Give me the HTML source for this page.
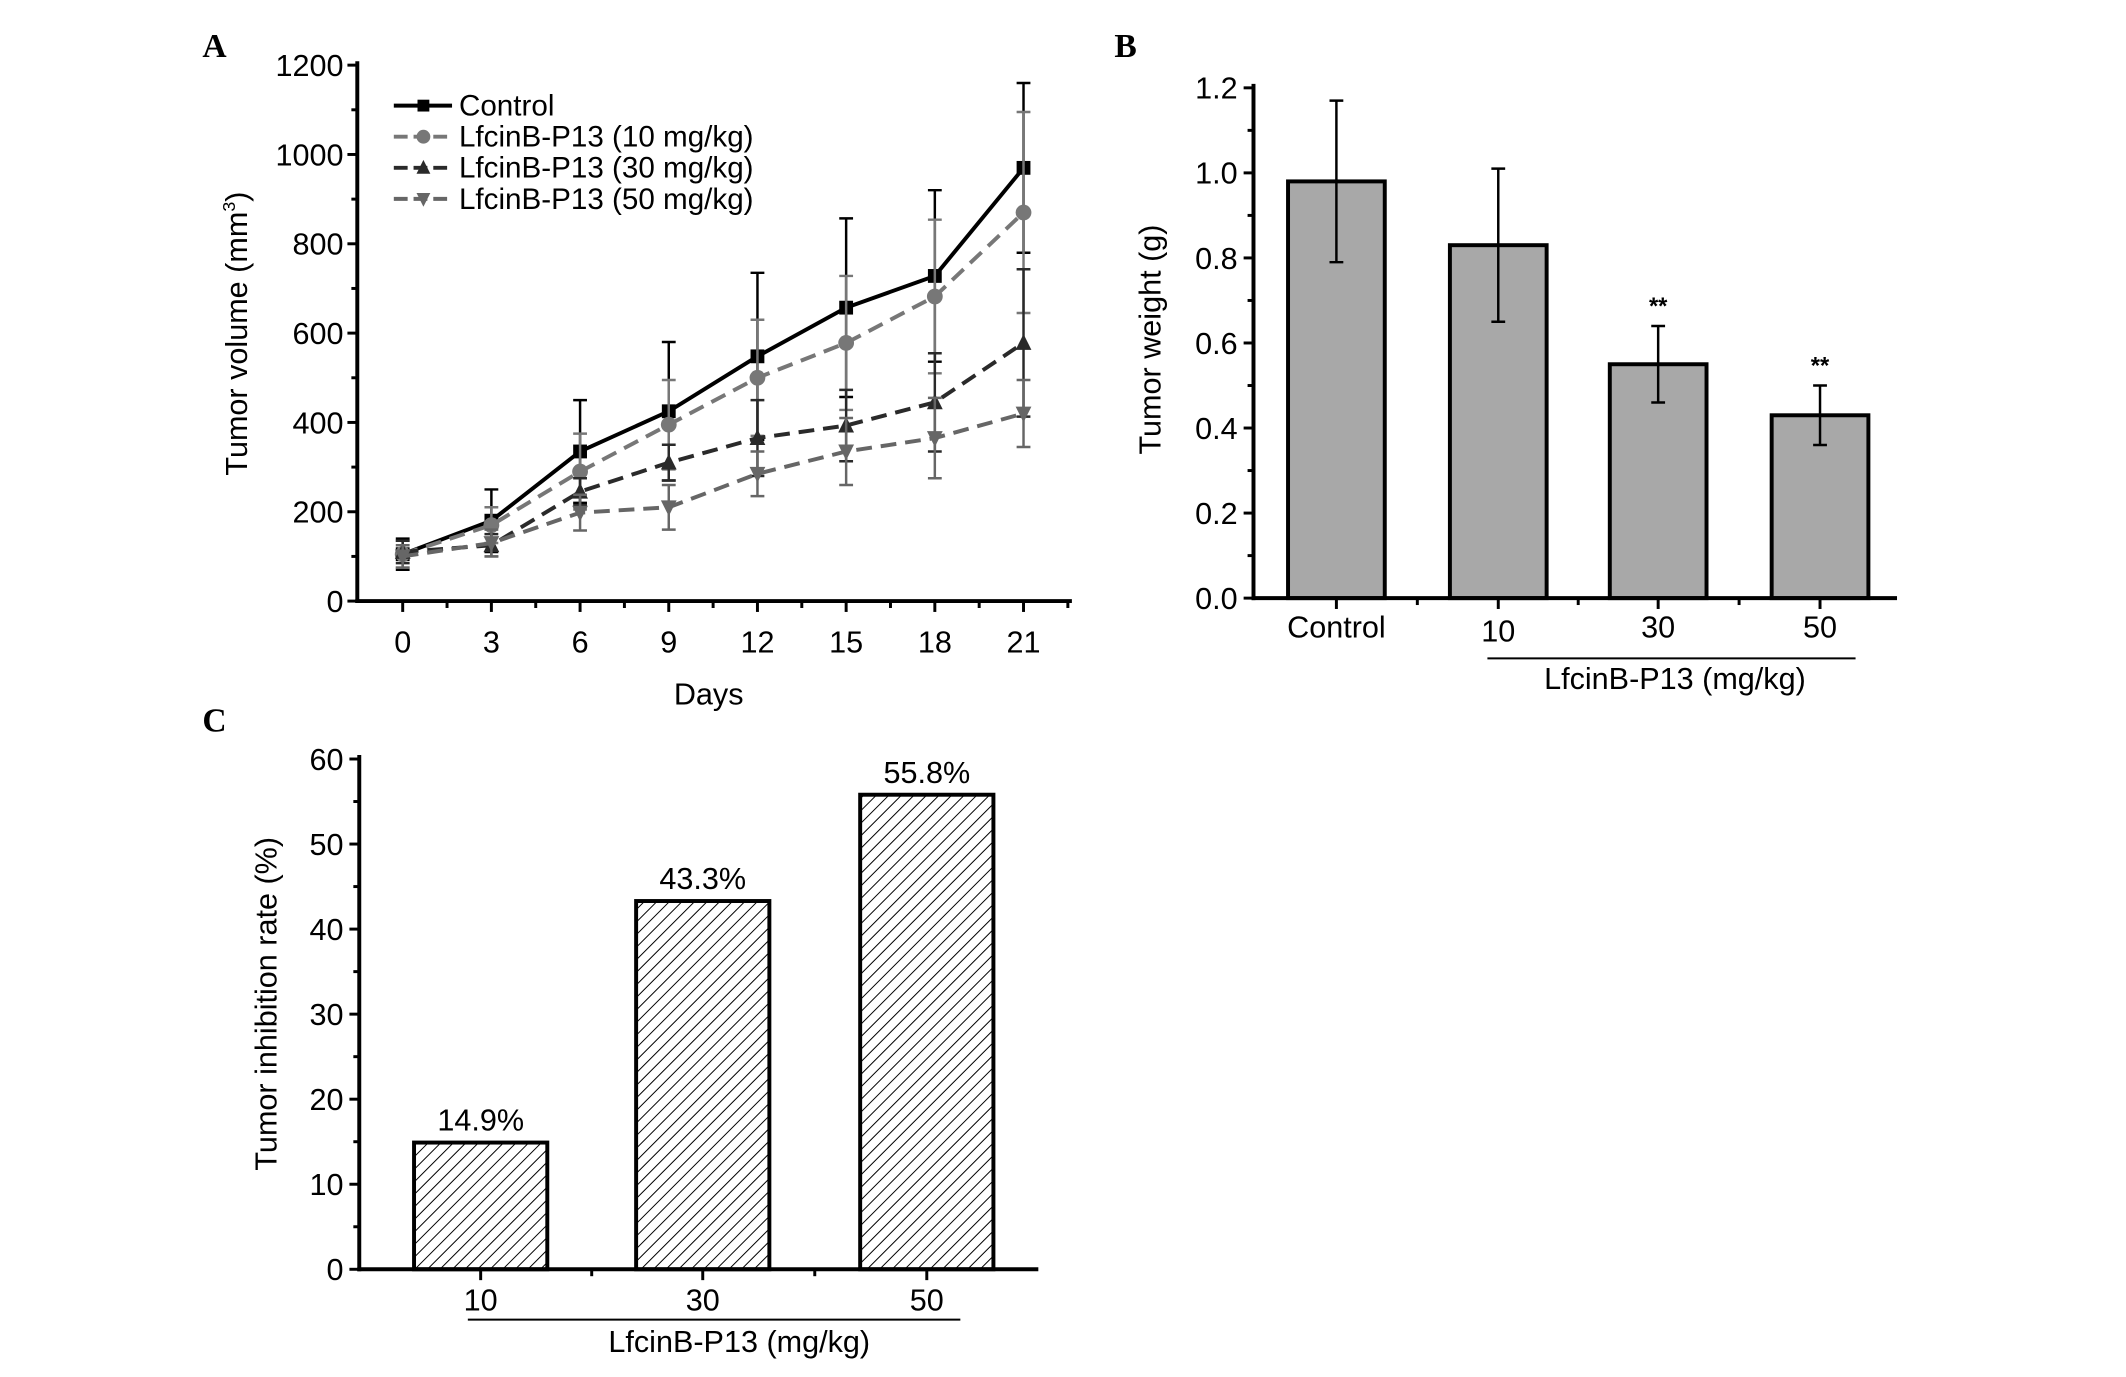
<!DOCTYPE html>
<html><head><meta charset="utf-8">
<style>
html,body{margin:0;padding:0;background:#fff;}
svg{display:block;font-family:"Liberation Sans",Arial,sans-serif;}
</style></head>
<body>
<svg id="fig" width="2126" height="1377" viewBox="0 0 2154 1395" preserveAspectRatio="xMinYMin meet" xmlns="http://www.w3.org/2000/svg">
<defs>
<pattern id="hatch" patternUnits="userSpaceOnUse" width="9" height="9" patternTransform="rotate(45)">
<rect width="9" height="9" fill="#fff"/>
<line x1="0" y1="0" x2="0" y2="9" stroke="#000" stroke-width="2"/>
</pattern>
</defs>
<g id="pa"></g>
<g id="pb"></g>
<g id="pc"></g>
</svg>
<script>
// Panel A data
const daysA = [0,3,6,9,12,15,18,21];
const controlVals = [105,180,335,425,548,657,728,970];
const controlErr = [35,70,115,155,187,200,192,190];
const p10Vals = [105,170,290,395,500,578,682,870];
const p10Err = [30,40,85,100,130,150,172,225];
const p30Vals = [110,125,245,310,365,393,445,578];
const p30Err = [25,25,30,40,85,80,110,165];
const p50Vals = [100,130,198,210,285,335,365,420];
const p50Err = [25,30,40,50,50,75,90,75];
const yTicksA = [0,200,400,600,800,1000,1200];
const seriesNamesA = ["Control","LfcinB-P13 (10 mg/kg)","LfcinB-P13 (30 mg/kg)","LfcinB-P13 (50 mg/kg)"];
// Panel B data
const catsB = ["Control","10","30","50"];
const weightVals = [0.98,0.83,0.55,0.43];
const weightErr = [0.19,0.18,0.09,0.07];
const sigB = ["","","**","**"];
const yTicksB = [0.0,0.2,0.4,0.6,0.8,1.0,1.2];
// Panel C data
const catsC = ["10","30","50"];
const inhibVals = [14.9,43.3,55.8];
const inhibLabels = ["14.9%","43.3%","55.8%"];
const yTicksC = [0,10,20,30,40,50,60];

const NS="http://www.w3.org/2000/svg";
function mk(parent,tag,attrs,text){
  const e=document.createElementNS(NS,tag);
  for(const k in attrs) e.setAttribute(k,attrs[k]);
  if(text!==undefined) e.textContent=text;
  parent.appendChild(e); return e;
}
const FS=31;

// ---------- Panel A ----------
(function(){
  const g=document.getElementById('pa');
  const x0=362,xEnd=1086,yTop=66,yBot=609;
  const xs=d=>408+(d/21)*(1037-408);
  const ys=v=>yBot-(v/1200)*(yBot-yTop);
  let t=mk(g,'text',{x:205,y:58,'font-family':'Liberation Serif,serif','font-weight':'bold','font-size':34},'A');
  
  
  let ax=mk(g,'line',{x1:x0,y1:yTop-4,x2:x0,y2:yBot+2,stroke:'#000','stroke-width':4});
  
  
  ax=mk(g,'line',{x1:x0-2,y1:yBot,x2:xEnd,y2:yBot,stroke:'#000','stroke-width':4});
  
  
  for(let v=0;v<=1200;v+=100){
    const major=yTicksA.includes(v);
    mk(g,'line',{x1:x0-(major?10:6),y1:ys(v),x2:x0,y2:ys(v),stroke:'#000','stroke-width':3});
  }
  yTicksA.forEach(v=>{
    const e=mk(g,'text',{x:x0-14,y:ys(v)+11,'text-anchor':'end','font-size':FS},String(v));
    
    
  });
  for(let d=0;d<=22.5;d+=1.5){
    const major=daysA.includes(d);
    mk(g,'line',{x1:xs(d),y1:yBot,x2:xs(d),y2:yBot+(major?11:7),stroke:'#000','stroke-width':3});
  }
  daysA.forEach(d=>{
    const e=mk(g,'text',{x:xs(d),y:661,'text-anchor':'middle','font-size':FS},String(d));
    
    
  });
  t=mk(g,'text',{x:718,y:714,'text-anchor':'middle','font-size':FS},'Days');
  
  
  t=mk(g,'text',{x:0,y:0,'text-anchor':'middle','font-size':FS,transform:'translate(250,338) rotate(-90)'});
  
  
  t.appendChild(document.createTextNode('Tumor volume (mm'));
  mk(t,'tspan',{'font-size':18,dy:-12},'3');
  mk(t,'tspan',{dy:12},')');

  const series=[
    {v:controlVals,e:controlErr,c:'#000',dash:'',m:'sq'},
    {v:p10Vals,e:p10Err,c:'#777',dash:'16 9',m:'ci'},
    {v:p30Vals,e:p30Err,c:'#2a2a2a',dash:'16 9',m:'tu'},
    {v:p50Vals,e:p50Err,c:'#666',dash:'16 9',m:'td'}
  ];
  function marker(par,m,x,y,c,s){
    if(m==='sq') return mk(par,'rect',{x:x-s,y:y-s,width:2*s,height:2*s,fill:c});
    if(m==='ci') return mk(par,'circle',{cx:x,cy:y,r:s+1,fill:c});
    if(m==='tu') return mk(par,'polygon',{points:`${x},${y-s-2} ${x-s-1},${y+s} ${x+s+1},${y+s}`,fill:c});
    return mk(par,'polygon',{points:`${x},${y+s+2} ${x-s-1},${y-s} ${x+s+1},${y-s}`,fill:c});
  }
  series.forEach((s,si)=>{
    const sg=mk(g,'g',{});
    
    
    s.v.forEach((v,i)=>{
      const x=xs(daysA[i]);
      const e=mk(sg,'path',{d:`M${x},${ys(v-s.e[i])}V${ys(v+s.e[i])}M${x-7},${ys(v-s.e[i])}h14M${x-7},${ys(v+s.e[i])}h14`,stroke:s.c,'stroke-width':2.5,fill:'none'});
      
      
    });
    const pts=s.v.map((v,i)=>xs(daysA[i])+','+ys(v)).join(' ');
    const pl=mk(sg,'polyline',{points:pts,fill:'none',stroke:s.c,'stroke-width':4,'stroke-dasharray':s.dash});
    
    
    s.v.forEach((v,i)=>{
      const m=marker(sg,s.m,xs(daysA[i]),ys(v),s.c,7);
      
      
    });
    const ly=107+si*31.5;
    const lg=mk(g,'g',{});
    
    
    mk(lg,'line',{x1:399,y1:ly,x2:458,y2:ly,stroke:s.c,'stroke-width':4,'stroke-dasharray':s.dash?'14 6':''});
    marker(lg,s.m,429,ly,s.c,6);
    mk(lg,'text',{x:465,y:ly+10,'font-size':30},seriesNamesA[si]);
  });
})();

// ---------- Panel B ----------
(function(){
  const g=document.getElementById('pb');
  const x0=1270,xEnd=1922,yTop=89,yBot=606;
  const ys=v=>yBot-(v/1.2)*(yBot-yTop);
  const centers=[1354,1518,1680,1844];
  const bw=98;
  let t=mk(g,'text',{x:1129,y:58,'font-family':'Liberation Serif,serif','font-weight':'bold','font-size':34},'B');
  
  
  catsB.forEach((c,i)=>{
    const b=mk(g,'rect',{x:centers[i]-bw/2,y:ys(weightVals[i]),width:bw,height:yBot-ys(weightVals[i]),fill:'#a8a8a8',stroke:'#000','stroke-width':4});
    
    
    const x=centers[i],lo=ys(weightVals[i]-weightErr[i]),hi=ys(weightVals[i]+weightErr[i]);
    const e=mk(g,'path',{d:`M${x},${lo}V${hi}M${x-7},${lo}h14M${x-7},${hi}h14`,stroke:'#000','stroke-width':2.5,fill:'none'});
    
    
    if(sigB[i]){
      const s=mk(g,'text',{x:x,y:hi-12,'text-anchor':'middle','font-size':24,'font-weight':'bold'},sigB[i]);
      
      
    }
    const l=mk(g,'text',{x:x,y:i===1?650:646,'text-anchor':'middle','font-size':FS},c);
    
    
  });
  let ax=mk(g,'line',{x1:x0,y1:yTop-4,x2:x0,y2:yBot+2,stroke:'#000','stroke-width':4});
  
  
  ax=mk(g,'line',{x1:x0-2,y1:yBot,x2:xEnd,y2:yBot,stroke:'#000','stroke-width':4});
  
  
  for(let k=0;k<=12;k++){
    const major=k%2===0;
    mk(g,'line',{x1:x0-(major?10:6),y1:ys(k/10),x2:x0,y2:ys(k/10),stroke:'#000','stroke-width':3});
  }
  yTicksB.forEach(v=>{
    const e=mk(g,'text',{x:x0-16,y:ys(v)+11,'text-anchor':'end','font-size':FS},v.toFixed(1));
    
    
  });
  centers.forEach((c,i)=>{
    mk(g,'line',{x1:c,y1:yBot,x2:c,y2:yBot+11,stroke:'#000','stroke-width':3});
    if(i<3) mk(g,'line',{x1:(c+centers[i+1])/2,y1:yBot,x2:(c+centers[i+1])/2,y2:yBot+7,stroke:'#000','stroke-width':3});
  });
  mk(g,'line',{x1:1507,y1:667,x2:1880,y2:667,stroke:'#000','stroke-width':2});
  t=mk(g,'text',{x:1697,y:698,'text-anchor':'middle','font-size':FS},'LfcinB-P13 (mg/kg)');
  
  
  t=mk(g,'text',{x:0,y:0,'text-anchor':'middle','font-size':FS,transform:'translate(1176,344) rotate(-90)'},'Tumor weight (g)');
  
  
})();

// ---------- Panel C ----------
(function(){
  const g=document.getElementById('pc');
  const x0=364,xEnd=1052,yTop=769,yBot=1286;
  const ys=v=>yBot-(v/60)*(yBot-yTop);
  const centers=[487,712,939];
  const bw=135;
  let t=mk(g,'text',{x:205,y:741,'font-family':'Liberation Serif,serif','font-weight':'bold','font-size':34},'C');
  
  
  catsC.forEach((c,i)=>{
    const b=mk(g,'rect',{x:centers[i]-bw/2,y:ys(inhibVals[i]),width:bw,height:yBot-ys(inhibVals[i]),fill:'url(#hatch)',stroke:'#000','stroke-width':4});
    
    
    const v=mk(g,'text',{x:centers[i],y:ys(inhibVals[i])-12,'text-anchor':'middle','font-size':FS},inhibLabels[i]);
    
    
    const l=mk(g,'text',{x:centers[i],y:1328,'text-anchor':'middle','font-size':FS},c);
    
    
  });
  let ax=mk(g,'line',{x1:x0,y1:yTop-4,x2:x0,y2:yBot+2,stroke:'#000','stroke-width':4});
  
  
  ax=mk(g,'line',{x1:x0-2,y1:yBot,x2:xEnd,y2:yBot,stroke:'#000','stroke-width':4});
  
  
  for(let v=0;v<=60;v+=5){
    const major=v%10===0;
    mk(g,'line',{x1:x0-(major?10:6),y1:ys(v),x2:x0,y2:ys(v),stroke:'#000','stroke-width':3});
  }
  yTicksC.forEach(v=>{
    const e=mk(g,'text',{x:x0-16,y:ys(v)+11,'text-anchor':'end','font-size':FS},String(v));
    
    
  });
  centers.forEach((c,i)=>{
    mk(g,'line',{x1:c,y1:yBot,x2:c,y2:yBot+11,stroke:'#000','stroke-width':3});
    if(i<2) mk(g,'line',{x1:(c+centers[i+1])/2,y1:yBot,x2:(c+centers[i+1])/2,y2:yBot+7,stroke:'#000','stroke-width':3});
  });
  mk(g,'line',{x1:474,y1:1337,x2:973,y2:1337,stroke:'#000','stroke-width':2});
  t=mk(g,'text',{x:749,y:1370,'text-anchor':'middle','font-size':FS},'LfcinB-P13 (mg/kg)');
  
  
  t=mk(g,'text',{x:0,y:0,'text-anchor':'middle','font-size':FS,transform:'translate(280,1017) rotate(-90)','xml:space':'preserve'},'Tumor inhibition rate  (%)');
  
  
})();
</script>
</body></html>
